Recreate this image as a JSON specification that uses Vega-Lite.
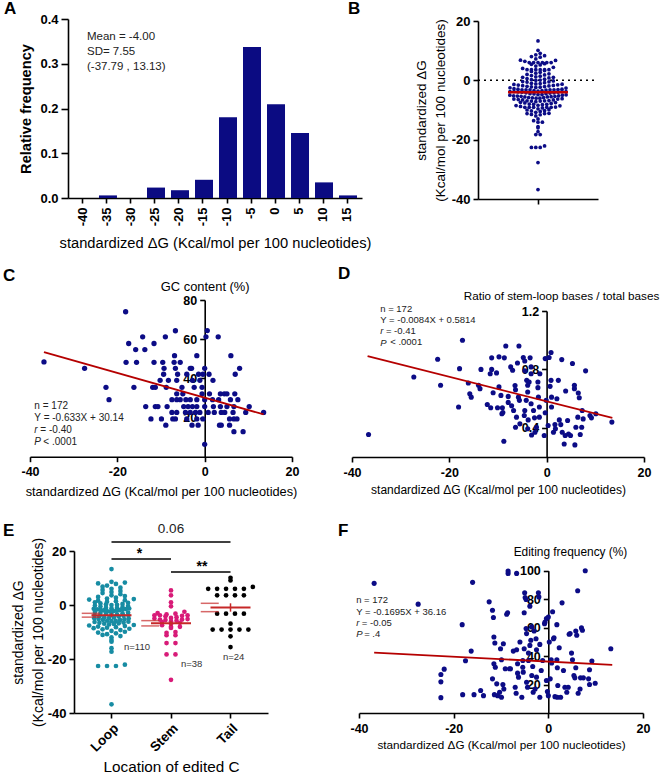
{
"$schema": "https://vega.github.io/schema/vega-lite/v6.json",
"padding": 0,
"background": "white",
"columns": 2,
"spacing": 0,
"bounds": "flush",
"config": {
  "font": "Liberation Sans",
  "view": {"stroke": null},
  "axis": {"grid": false, "domainColor": "#000", "domainWidth": 1.6, "tickColor": "#000", "tickWidth": 1.6, "tickSize": 5, "labelColor": "#000", "labelFontWeight": "bold", "labelFontSize": 12.5, "labelFont": "Liberation Sans", "labelPadding": 3, "titleColor": "#000", "titleFontWeight": "normal", "titleFont": "Liberation Sans", "labelFlush": false, "labelOverlap": false, "titleFontSize": 12},
  "title": {"fontSize": 17, "fontWeight": "bold", "anchor": "start", "color": "#000", "font": "Liberation Sans", "frame": "group"}
},
"datasets": {
  "hist": [{"bin":-40,"freq":0},{"bin":-35,"freq":0.0058},{"bin":-30,"freq":0},{"bin":-25,"freq":0.0233},{"bin":-20,"freq":0.0174},{"bin":-15,"freq":0.0407},{"bin":-10,"freq":0.1802},{"bin":-5,"freq":0.3372},{"bin":0,"freq":0.2093},{"bin":5,"freq":0.1453},{"bin":10,"freq":0.0349},{"bin":15,"freq":0.0058}],
  "dg": [
{"loc":"Loop","dg":13.3},{"loc":"Loop","dg":8.6},{"loc":"Loop","dg":8.3},{"loc":"Loop","dg":8.0},{"loc":"Loop","dg":7.8},{"loc":"Loop","dg":7.2},{"loc":"Loop","dg":6.8},{"loc":"Loop","dg":6.4},{"loc":"Loop","dg":6.0},{"loc":"Loop","dg":5.6},{"loc":"Loop","dg":5.2},{"loc":"Loop","dg":4.8},{"loc":"Loop","dg":4.4},{"loc":"Loop","dg":4.0},{"loc":"Loop","dg":3.6},{"loc":"Loop","dg":3.3},{"loc":"Loop","dg":3.0},{"loc":"Loop","dg":2.7},
{"loc":"Loop","dg":2.4},{"loc":"Loop","dg":2.2},{"loc":"Loop","dg":2.0},{"loc":"Loop","dg":1.8},{"loc":"Loop","dg":1.6},{"loc":"Loop","dg":1.4},{"loc":"Loop","dg":1.2},{"loc":"Loop","dg":1.0},{"loc":"Loop","dg":0.8},{"loc":"Loop","dg":0.6},{"loc":"Loop","dg":0.4},{"loc":"Loop","dg":0.2},{"loc":"Loop","dg":0.1},{"loc":"Loop","dg":0.0},{"loc":"Loop","dg":-0.2},{"loc":"Loop","dg":-0.4},{"loc":"Loop","dg":-0.6},{"loc":"Loop","dg":-0.8},{"loc":"Loop","dg":-1.0},{"loc":"Loop","dg":-1.1},{"loc":"Loop","dg":-1.2},{"loc":"Loop","dg":-1.3},{"loc":"Loop","dg":-1.4},{"loc":"Loop","dg":-1.5},{"loc":"Loop","dg":-1.6},{"loc":"Loop","dg":-1.7},{"loc":"Loop","dg":-1.8},{"loc":"Loop","dg":-1.9},{"loc":"Loop","dg":-2.0},{"loc":"Loop","dg":-2.1},{"loc":"Loop","dg":-2.2},{"loc":"Loop","dg":-2.3},{"loc":"Loop","dg":-2.4},
{"loc":"Loop","dg":-2.6},{"loc":"Loop","dg":-2.8},{"loc":"Loop","dg":-3.0},{"loc":"Loop","dg":-3.1},{"loc":"Loop","dg":-3.3},{"loc":"Loop","dg":-3.5},{"loc":"Loop","dg":-3.6},{"loc":"Loop","dg":-3.8},{"loc":"Loop","dg":-3.9},{"loc":"Loop","dg":-4.0},{"loc":"Loop","dg":-4.2},{"loc":"Loop","dg":-4.3},{"loc":"Loop","dg":-4.5},{"loc":"Loop","dg":-4.6},{"loc":"Loop","dg":-4.8},{"loc":"Loop","dg":-4.9},{"loc":"Loop","dg":-5.0},{"loc":"Loop","dg":-5.2},{"loc":"Loop","dg":-5.3},{"loc":"Loop","dg":-5.5},{"loc":"Loop","dg":-5.6},{"loc":"Loop","dg":-5.8},{"loc":"Loop","dg":-5.9},{"loc":"Loop","dg":-6.0},{"loc":"Loop","dg":-6.2},{"loc":"Loop","dg":-6.3},{"loc":"Loop","dg":-6.5},{"loc":"Loop","dg":-6.6},{"loc":"Loop","dg":-6.8},{"loc":"Loop","dg":-6.9},{"loc":"Loop","dg":-7.0},{"loc":"Loop","dg":-7.2},{"loc":"Loop","dg":-7.4},
{"loc":"Loop","dg":-7.6},{"loc":"Loop","dg":-7.8},{"loc":"Loop","dg":-8.0},{"loc":"Loop","dg":-8.2},{"loc":"Loop","dg":-8.4},{"loc":"Loop","dg":-8.6},{"loc":"Loop","dg":-8.8},{"loc":"Loop","dg":-9.0},{"loc":"Loop","dg":-9.3},{"loc":"Loop","dg":-9.6},{"loc":"Loop","dg":-9.9},{"loc":"Loop","dg":-10.2},{"loc":"Loop","dg":-10.5},{"loc":"Loop","dg":-10.8},{"loc":"Loop","dg":-11.1},{"loc":"Loop","dg":-11.5},{"loc":"Loop","dg":-12.0},
{"loc":"Loop","dg":-13.0},{"loc":"Loop","dg":-13.6},{"loc":"Loop","dg":-16.0},{"loc":"Loop","dg":-17.3},{"loc":"Loop","dg":-22.1},{"loc":"Loop","dg":-22.6},{"loc":"Loop","dg":-22.6},{"loc":"Loop","dg":-22.6},{"loc":"Loop","dg":-36.8},
{"loc":"Stem","dg":5.4},{"loc":"Stem","dg":3.6},{"loc":"Stem","dg":1.0},{"loc":"Stem","dg":-0.5},{"loc":"Stem","dg":-2.5},{"loc":"Stem","dg":-3.0},{"loc":"Stem","dg":-3.2},{"loc":"Stem","dg":-3.5},{"loc":"Stem","dg":-3.8},{"loc":"Stem","dg":-3.8},{"loc":"Stem","dg":-3.8},{"loc":"Stem","dg":-4.0},{"loc":"Stem","dg":-4.2},{"loc":"Stem","dg":-4.5},{"loc":"Stem","dg":-4.8},{"loc":"Stem","dg":-5.0},{"loc":"Stem","dg":-5.2},{"loc":"Stem","dg":-5.4},{"loc":"Stem","dg":-5.4},{"loc":"Stem","dg":-5.6},{"loc":"Stem","dg":-5.8},{"loc":"Stem","dg":-6.0},{"loc":"Stem","dg":-6.3},{"loc":"Stem","dg":-6.6},{"loc":"Stem","dg":-7.0},{"loc":"Stem","dg":-7.5},{"loc":"Stem","dg":-8.1},{"loc":"Stem","dg":-8.1},{"loc":"Stem","dg":-8.5},{"loc":"Stem","dg":-10.0},{"loc":"Stem","dg":-10.3},{"loc":"Stem","dg":-11.2},{"loc":"Stem","dg":-11.2},{"loc":"Stem","dg":-14.1},{"loc":"Stem","dg":-14.1},{"loc":"Stem","dg":-18.3},{"loc":"Stem","dg":-18.3},{"loc":"Stem","dg":-27.7},
{"loc":"Tail","dg":10.1},{"loc":"Tail","dg":9.1},{"loc":"Tail","dg":6.7},{"loc":"Tail","dg":6.0},{"loc":"Tail","dg":6.0},{"loc":"Tail","dg":6.0},{"loc":"Tail","dg":6.0},{"loc":"Tail","dg":6.0},{"loc":"Tail","dg":3.6},{"loc":"Tail","dg":3.6},{"loc":"Tail","dg":3.6},{"loc":"Tail","dg":3.6},{"loc":"Tail","dg":-3.2},{"loc":"Tail","dg":-3.2},{"loc":"Tail","dg":-3.2},{"loc":"Tail","dg":-3.2},{"loc":"Tail","dg":-6.9},{"loc":"Tail","dg":-9.1},{"loc":"Tail","dg":-9.1},{"loc":"Tail","dg":-9.1},{"loc":"Tail","dg":-9.1},{"loc":"Tail","dg":-9.1},{"loc":"Tail","dg":-11.6},{"loc":"Tail","dg":-15.6}
  ],
  "gc": [
{"dg":-36.8,"gc":48.4},{"dg":-27.5,"gc":45.1},{"dg":-22.6,"gc":35.4},{"dg":-21.9,"gc":29.1},{"dg":-18.1,"gc":74.0},{"dg":-17.4,"gc":57.8},{"dg":-15.8,"gc":54.7},{"dg":-14.2,"gc":61.2},{"dg":-13.7,"gc":54.7},{"dg":-11.6,"gc":57.8},{"dg":-9.0,"gc":61.2},{"dg":-6.7,"gc":64.3},{"dg":0.6,"gc":64.4},{"dg":0.3,"gc":61.2},{"dg":3.1,"gc":61.2},{"dg":-18.0,"gc":48.2},{"dg":-15.6,"gc":48.2},{"dg":-16.2,"gc":35.4},{"dg":-13.5,"gc":25.6},{"dg":-12.3,"gc":19.3},
{"dg":-11.6,"gc":48.2},{"dg":-9.6,"gc":48.2},{"dg":-7.0,"gc":48.2},{"dg":-5.6,"gc":48.2},
{"dg":-6.9,"gc":51.6},{"dg":-1.8,"gc":51.6},{"dg":6.0,"gc":51.6},
{"dg":-9.3,"gc":45.1},{"dg":-6.7,"gc":45.1},{"dg":-3.3,"gc":45.1},{"dg":-3.0,"gc":45.1},{"dg":0.0,"gc":45.1},{"dg":8.0,"gc":45.1},
{"dg":-9.4,"gc":42.1},{"dg":-6.2,"gc":42.1},{"dg":-4.1,"gc":42.1},{"dg":-1.4,"gc":42.1},{"dg":-0.4,"gc":42.1},{"dg":1.0,"gc":42.1},{"dg":7.0,"gc":42.1},
{"dg":-10.2,"gc":39.0},{"dg":-8.3,"gc":39.0},{"dg":-6.4,"gc":39.0},{"dg":-2.8,"gc":39.0},{"dg":-1.1,"gc":39.0},{"dg":1.9,"gc":39.0},
{"dg":-11.9,"gc":35.4},{"dg":-11.3,"gc":35.4},{"dg":-8.8,"gc":35.4},{"dg":-5.2,"gc":35.4},{"dg":-2.4,"gc":35.4},{"dg":-0.6,"gc":35.4},
{"dg":-6.4,"gc":32.1},{"dg":-5.0,"gc":32.1},{"dg":-0.6,"gc":32.1},{"dg":1.1,"gc":32.1},{"dg":3.6,"gc":32.1},{"dg":4.5,"gc":32.1},{"dg":5.1,"gc":32.1},{"dg":6.9,"gc":32.1},
{"dg":-7.5,"gc":29.1},{"dg":-6.4,"gc":29.1},{"dg":-5.6,"gc":29.1},{"dg":-4.3,"gc":29.1},{"dg":-3.3,"gc":29.1},{"dg":-1.8,"gc":29.1},{"dg":0.0,"gc":29.1},{"dg":1.8,"gc":29.1},{"dg":3.2,"gc":29.1},{"dg":5.9,"gc":29.1},{"dg":7.6,"gc":29.1},
{"dg":-11.3,"gc":25.6},{"dg":-10.7,"gc":25.6},{"dg":-8.6,"gc":25.6},{"dg":-4.8,"gc":25.6},{"dg":-3.8,"gc":25.6},{"dg":-2.8,"gc":25.6},{"dg":-1.8,"gc":25.6},{"dg":0.0,"gc":25.6},{"dg":2.0,"gc":25.6},{"dg":3.6,"gc":25.6},{"dg":5.1,"gc":25.6},{"dg":6.7,"gc":25.6},{"dg":10.2,"gc":25.6},
{"dg":-7.5,"gc":22.6},{"dg":-6.4,"gc":22.6},{"dg":-4.4,"gc":22.6},{"dg":-3.3,"gc":22.6},{"dg":-2.1,"gc":22.6},{"dg":-1.1,"gc":22.6},{"dg":0.8,"gc":22.6},{"dg":2.2,"gc":22.6},{"dg":3.8,"gc":22.6},{"dg":4.6,"gc":22.6},{"dg":6.5,"gc":22.6},{"dg":9.4,"gc":22.6},{"dg":13.5,"gc":22.6},
{"dg":-9.9,"gc":19.3},{"dg":-7.3,"gc":19.3},{"dg":-6.7,"gc":19.3},{"dg":-4.1,"gc":19.3},{"dg":-1.8,"gc":19.3},{"dg":-0.4,"gc":19.3},{"dg":5.7,"gc":19.3},{"dg":6.7,"gc":19.3},{"dg":7.4,"gc":19.3},
{"dg":-8.9,"gc":16.1},{"dg":-2.9,"gc":16.1},{"dg":-1.5,"gc":16.1},{"dg":3.4,"gc":16.1},{"dg":3.8,"gc":16.1},{"dg":5.7,"gc":16.1},
{"dg":6.7,"gc":12.8},{"dg":8.8,"gc":12.8},{"dg":0.0,"gc":6.3}
  ],
  "ratio": [
{"dg":-36.6,"r":0.354},{"dg":-27.3,"r":0.748},{"dg":-22.4,"r":0.870},{"dg":-21.8,"r":0.691},{"dg":-17.3,"r":1.0},{"dg":-17.9,"r":0.805},{"dg":-18.1,"r":0.542},{"dg":-16.1,"r":0.707},{"dg":-15.8,"r":0.633},{"dg":-15.5,"r":0.61},{"dg":-14.0,"r":0.691},{"dg":-13.7,"r":0.668},{"dg":-13.5,"r":0.80},{"dg":-12.2,"r":0.56},{"dg":-11.5,"r":0.537},{"dg":-11.3,"r":0.879},{"dg":-11.3,"r":0.80},{"dg":-11.6,"r":0.77},{"dg":-10.3,"r":0.776},{"dg":-11.0,"r":0.64},{"dg":-10.1,"r":0.537},{"dg":-9.8,"r":0.886},{"dg":-9.8,"r":0.68},{"dg":-9.4,"r":0.622},{"dg":-9.2,"r":0.496},{"dg":-8.8,"r":0.308},{"dg":-8.7,"r":0.879},{"dg":-9.1,"r":0.537},{"dg":-8.4,"r":0.96},{"dg":-7.9,"r":0.615},{"dg":-7.4,"r":0.817},{"dg":-7.0,"r":0.794},{"dg":-7.2,"r":0.551},{"dg":-6.8,"r":0.519},{"dg":-6.5,"r":0.69},{"dg":-6.4,"r":0.661},{"dg":-6.4,"r":0.404},{"dg":-5.7,"r":0.96},{"dg":-6.0,"r":0.844},{"dg":-5.8,"r":0.61},{"dg":-5.6,"r":0.588},{"dg":-6.2,"r":0.473},{"dg":-5.5,"r":0.427},{"dg":-4.8,"r":0.881},{"dg":-4.5,"r":0.858},{"dg":-4.5,"r":0.79},{"dg":-4.1,"r":0.725},{"dg":-3.9,"r":0.691},{"dg":-3.9,"r":0.645},{"dg":-4.2,"r":0.588},{"dg":-4.5,"r":0.519},{"dg":-4.6,"r":0.484},{"dg":-3.8,"r":0.454},{"dg":-3.9,"r":0.393},{"dg":-3.4,"r":0.879},{"dg":-3.2,"r":0.817},{"dg":-3.2,"r":0.77},{"dg":-3.6,"r":0.714},{"dg":-3.2,"r":0.565},{"dg":-2.7,"r":0.519},{"dg":-2.5,"r":0.468},{"dg":-3.1,"r":0.351},{"dg":-2.4,"r":0.37},{"dg":-1.8,"r":0.714},{"dg":-1.8,"r":0.675},{"dg":-1.7,"r":0.61},{"dg":-1.5,"r":0.542},{"dg":-1.5,"r":0.473},{"dg":-1.4,"r":0.77},{"dg":-2.1,"r":0.404},{"dg":-0.5,"r":0.347},{"dg":-0.3,"r":0.874},{"dg":0.5,"r":0.881},{"dg":0.9,"r":0.916},{"dg":-0.3,"r":0.503},{"dg":-0.1,"r":0.588},{"dg":0.9,"r":0.725},{"dg":0.7,"r":0.684},{"dg":1.0,"r":0.61},{"dg":1.0,"r":0.542},{"dg":0.3,"r":0.416},{"dg":1.4,"r":0.37},{"dg":1.7,"r":0.422},{"dg":1.8,"r":0.393},{"dg":2.1,"r":0.599},{"dg":2.4,"r":0.725},{"dg":2.6,"r":0.454},{"dg":2.9,"r":0.422},{"dg":3.1,"r":0.867},{"dg":3.2,"r":0.37},{"dg":3.6,"r":0.289},{"dg":3.8,"r":0.347},{"dg":3.9,"r":0.652},{"dg":4.3,"r":0.45},{"dg":4.5,"r":0.358},{"dg":4.9,"r":0.347},{"dg":5.3,"r":0.84},{"dg":5.7,"r":0.691},{"dg":5.7,"r":0.668},{"dg":5.8,"r":0.283},{"dg":6.0,"r":0.404},{"dg":6.4,"r":0.473},{"dg":6.5,"r":0.638},{"dg":6.7,"r":0.606},{"dg":6.9,"r":0.354},{"dg":7.2,"r":0.404},{"dg":7.3,"r":0.519},{"dg":7.5,"r":0.461},{"dg":8.0,"r":0.79},{"dg":8.9,"r":0.484},{"dg":9.2,"r":0.468},{"dg":10.1,"r":0.496},{"dg":13.4,"r":0.439},{"dg":-9.0,"r":0.505},{"dg":-7.9,"r":0.574}
  ],
  "freq": [
{"dg":-36.8,"f":91.1},{"dg":-27.5,"f":76.5},{"dg":-22.7,"f":27.1},{"dg":-22.0,"f":30.8},{"dg":-22.7,"f":21.9},{"dg":-22.7,"f":10.8},{"dg":-18.2,"f":62.1},{"dg":-18.1,"f":12.9},{"dg":-17.5,"f":36.7},{"dg":-16.3,"f":43.5},{"dg":-16.0,"f":91.8},{"dg":-15.7,"f":12.9},{"dg":-14.3,"f":15.8},{"dg":-13.7,"f":12.2},{"dg":-12.5,"f":78.1},{"dg":-11.8,"f":72.2},{"dg":-11.6,"f":67.1},{"dg":-11.5,"f":53.4},{"dg":-11.3,"f":49.2},{"dg":-11.5,"f":34.6},{"dg":-11.2,"f":32.2},{"dg":-11.8,"f":24.0},{"dg":-10.9,"f":20.5},{"dg":-11.4,"f":12.9},{"dg":-10.7,"f":12.2},{"dg":-10.3,"f":14.6},{"dg":-10.1,"f":45.2},{"dg":-9.9,"f":37.4},{"dg":-9.5,"f":48.7},{"dg":-9.6,"f":20.0},{"dg":-9.4,"f":16.9},{"dg":-9.9,"f":11.1},{"dg":-9.1,"f":31.1},{"dg":-8.8,"f":69.4},{"dg":-8.6,"f":70.4},{"dg":-8.5,"f":99.8},{"dg":-8.5,"f":98.1},{"dg":-8.2,"f":31.1},{"dg":-8.0,"f":31.1},{"dg":-7.4,"f":43.5},{"dg":-7.0,"f":18.1},{"dg":-6.8,"f":13.9},{"dg":-6.7,"f":98.1},{"dg":-6.7,"f":44.5},{"dg":-6.5,"f":34.6},{"dg":-6.5,"f":28.0},{"dg":-6.3,"f":25.2},{"dg":-6.0,"f":49.9},{"dg":-5.6,"f":11.1},{"dg":-5.4,"f":36.9},{"dg":-5.3,"f":28.7},{"dg":-5.1,"f":45.2},{"dg":-5.1,"f":70.4},{"dg":-5.0,"f":84.5},{"dg":-4.9,"f":81.2},{"dg":-4.7,"f":79.8},{"dg":-4.7,"f":59.3},{"dg":-4.6,"f":55.8},{"dg":-4.6,"f":21.6},{"dg":-4.4,"f":18.1},{"dg":-4.2,"f":36.9},{"dg":-4.2,"f":42.1},{"dg":-3.9,"f":75.1},{"dg":-3.9,"f":47.5},{"dg":-3.7,"f":51.1},{"dg":-3.5,"f":60.5},{"dg":-3.5,"f":26.4},{"dg":-3.3,"f":32.7},{"dg":-3.2,"f":14.6},{"dg":-3.0,"f":57.6},{"dg":-2.8,"f":16.9},{"dg":-2.6,"f":52.2},{"dg":-2.5,"f":44.5},{"dg":-2.5,"f":25.2},{"dg":-2.1,"f":84.5},{"dg":-2.0,"f":81.6},{"dg":-1.8,"f":48.2},{"dg":-1.8,"f":11.1},{"dg":-1.5,"f":29.9},{"dg":-1.2,"f":36.9},{"dg":-0.8,"f":62.8},{"dg":-0.7,"f":64.0},{"dg":-0.4,"f":66.4},{"dg":-0.4,"f":22.8},{"dg":-0.2,"f":15.1},{"dg":0.0,"f":12.2},{"dg":0.0,"f":67.5},{"dg":0.2,"f":49.9},{"dg":0.4,"f":24.0},{"dg":0.6,"f":37.4},{"dg":0.7,"f":35.1},{"dg":0.9,"f":71.1},{"dg":1.1,"f":52.2},{"dg":1.2,"f":52.9},{"dg":1.4,"f":11.5},{"dg":1.8,"f":37.4},{"dg":1.9,"f":11.1},{"dg":2.0,"f":19.3},{"dg":1.8,"f":62.1},{"dg":1.9,"f":31.8},{"dg":2.3,"f":45.9},{"dg":2.6,"f":11.1},{"dg":2.9,"f":77.4},{"dg":3.2,"f":29.9},{"dg":3.5,"f":18.1},{"dg":3.9,"f":14.6},{"dg":4.2,"f":18.1},{"dg":4.4,"f":55.3},{"dg":4.6,"f":55.8},{"dg":4.9,"f":42.1},{"dg":5.1,"f":37.4},{"dg":5.4,"f":26.4},{"dg":5.6,"f":24.7},{"dg":5.8,"f":31.8},{"dg":5.8,"f":57.6},{"dg":6.0,"f":54.6},{"dg":6.2,"f":85.9},{"dg":6.3,"f":13.9},{"dg":6.7,"f":16.9},{"dg":6.8,"f":24.7},{"dg":7.0,"f":59.8},{"dg":7.2,"f":58.1},{"dg":7.4,"f":24.7},{"dg":7.8,"f":100},{"dg":8.5,"f":24.0},{"dg":8.7,"f":20.0},{"dg":8.7,"f":30.4},{"dg":9.2,"f":36.5},{"dg":9.9,"f":20.9},{"dg":13.2,"f":45.2},{"dg":-5.4,"f":32.2}
  ]
},
"concat": [
{
  "width": 332, "height": 259,
  "title": {"text": "A", "dx": 4, "offset": -18},
  "layer": [
    {"data": {"name": "hist"},
     "mark": {"type": "bar", "color": "#0b0b82"},
     "encoding": {
       "x": {"field": "bin", "type": "ordinal",
         "scale": {"type": "band", "range": [68, 362], "paddingInner": 0.333, "paddingOuter": 0.29},
         "axis": {"labelAngle": -90, "labelOverlap": false, "labelFontSize": 13, "labelPadding": 4, "offset": -61, "title": "standardized ΔG (Kcal/mol per 100 nucleotides)", "titleFontSize": 14.7, "titleY": 49, "titleBaseline": "alphabetic"}},
       "y": {"field": "freq", "type": "quantitative",
         "scale": {"domain": [0, 0.4], "range": [198, 19], "nice": false, "zero": false},
         "axis": {"values": [0,0.1,0.2,0.3,0.4], "format": ".1f", "labelFontSize": 13, "tickSize": 7, "offset": -68, "title": "Relative frequency", "titleFontWeight": "bold", "titleFontSize": 14.6, "titleX": -37.5, "titleBaseline": "alphabetic"}}
     }},
    {"data": {"values": [{}]},
     "mark": {"type": "text", "align": "left", "baseline": "alphabetic", "fontSize": 11.5, "lineHeight": 15, "color": "#222", "dx": 4},
     "encoding": {"x": {"datum": -40, "type": "ordinal"}, "y": {"datum": 0.353}, "text": {"value": ["Mean = -4.00", "SD= 7.55", "(-37.79 , 13.13)"]}}}
  ]
},
{
  "width": 332, "height": 259,
  "title": {"text": "B", "dx": 16, "offset": -18},
  "data": {"name": "dg"},
  "layer": [
    {"data": {"values": [{}]},
     "mark": {"type": "rule", "strokeDash": [2, 4], "color": "#000", "strokeWidth": 1.5},
     "encoding": {"x": {"datum": -13}, "x2": {"datum": 13}, "y": {"datum": 0}}},
    {"transform": [
       {"bin": {"step": 1.2}, "field": "dg", "as": "row"},
       {"window": [{"op": "row_number", "as": "k"}], "groupby": ["row"], "sort": [{"field": "dg", "order": "ascending"}]},
       {"joinaggregate": [{"op": "count", "as": "n"}], "groupby": ["row"]},
       {"calculate": "((datum.k % 2 == 0) ? datum.k / 2 : -(datum.k - 1) / 2) - ((datum.n % 2 == 0) ? 0.5 : 0)", "as": "p"},
       {"calculate": "datum.p * min(0.95, 13 / datum.n)", "as": "off"}
     ],
     "mark": {"type": "circle", "size": 14, "color": "#0c0c86", "opacity": 1},
     "encoding": {
       "x": {"field": "off", "type": "quantitative", "scale": {"domain": [-13, 13], "range": [146, 266], "nice": false, "zero": false}, "axis": {"values": [0], "labels": false, "offset": -60, "title": null}},
       "y": {"field": "dg", "type": "quantitative", "scale": {"domain": [-40, 20], "range": [199, 21], "nice": false, "zero": false},
         "axis": {"values": [-40,-20,0,20], "labelExpr": "datum.value + ''", "labelFontSize": 13, "offset": -146, "title": ["standardized ΔG", "(Kcal/mol per 100 nucleotides)"], "titleFontSize": 13.5, "titleLineHeight": 19, "titleX": -53, "titleBaseline": "alphabetic"}}
     }},
    {"mark": {"type": "rule", "color": "#c00000", "strokeWidth": 2.5},
     "encoding": {"x": {"datum": -6.5}, "x2": {"datum": 6.5}, "y": {"aggregate": "mean", "field": "dg", "type": "quantitative", "title": ["standardized ΔG", "(Kcal/mol per 100 nucleotides)"]}}}
  ]
},
{
  "width": 332, "height": 259,
  "title": {"text": "C", "dx": 3, "offset": -26},
  "layer": [
    {"data": {"name": "gc"},
     "mark": {"type": "circle", "size": 28, "color": "#0c0c86", "opacity": 1},
     "encoding": {
       "x": {"field": "dg", "type": "quantitative", "scale": {"domain": [-40, 20], "range": [30, 292], "nice": false, "zero": false},
         "axis": {"values": [-40,-20,0,20], "labelExpr": "datum.value + ''", "offset": -61.3, "labelPadding": 4, "title": "standardized ΔG (Kcal/mol per 100 nucleotides)", "titleFontSize": 12.8, "titleY": 38.3, "titleBaseline": "alphabetic"}},
       "y": {"field": "gc", "type": "quantitative", "scale": {"domain": [0, 80], "range": [197.7, 41], "nice": false, "zero": false},
         "axis": {"values": [20,40,60,80], "offset": -204.7, "title": "GC content (%)", "titleAngle": 0, "titleX": 0, "titleY": 31, "titleAlign": "center", "titleBaseline": "alphabetic", "titleFontSize": 12.9}}
     }},
    {"data": {"values": [{}]}, "mark": {"type": "rule", "color": "#b50000", "strokeWidth": 1.8},
     "encoding": {"x": {"datum": -36.8}, "y": {"datum": 53.4}, "x2": {"datum": 13.5}, "y2": {"datum": 21.6}}},
    {"data": {"values": [{}]}, "mark": {"type": "text", "align": "left", "baseline": "alphabetic", "fontSize": 10, "lineHeight": 12, "color": "#222"},
     "encoding": {"x": {"datum": -39}, "y": {"datum": 24.6}, "text": {"value": ["n = 172", "Y = -0.633X + 30.14"]}}},
    {"data": {"values": [{}]}, "mark": {"type": "text", "align": "left", "baseline": "alphabetic", "fontSize": 10, "fontStyle": "italic", "lineHeight": 12, "color": "#222"},
     "encoding": {"x": {"datum": -39}, "y": {"datum": 12.35}, "text": {"value": ["r", "P"]}}},
    {"data": {"values": [{}]}, "mark": {"type": "text", "align": "left", "baseline": "alphabetic", "fontSize": 10, "color": "#222", "dx": 6},
     "encoding": {"x": {"datum": -39}, "y": {"datum": 12.35}, "text": {"value": "= -0.40"}}},
    {"data": {"values": [{}]}, "mark": {"type": "text", "align": "left", "baseline": "alphabetic", "fontSize": 10, "color": "#222", "dx": 9},
     "encoding": {"x": {"datum": -39}, "y": {"datum": 6.2}, "text": {"value": "< .0001"}}}
  ]
},
{
  "width": 332, "height": 259,
  "title": {"text": "D", "dx": 6, "offset": -24},
  "layer": [
    {"data": {"name": "ratio"},
     "mark": {"type": "circle", "size": 26, "color": "#0c0c86", "opacity": 1},
     "encoding": {
       "x": {"field": "dg", "type": "quantitative", "scale": {"domain": [-40, 20], "range": [20, 312], "nice": false, "zero": false},
         "axis": {"values": [-40,-20,0,20], "labelExpr": "datum.value + ''", "offset": -61, "labelPadding": 4, "title": "standardized ΔG (Kcal/mol per 100 nucleotides)", "titleFontSize": 12, "titleY": 36, "titleBaseline": "alphabetic"}},
       "y": {"field": "r", "type": "quantitative", "scale": {"domain": [0.2, 1.2], "range": [198, 52], "nice": false, "zero": false},
         "axis": {"values": [0.4,0.8,1.2], "format": ".1f", "offset": -214.6, "title": "Ratio of stem-loop bases / total bases", "titleAngle": 0, "titleX": 14.4, "titleY": 40, "titleAlign": "center", "titleBaseline": "alphabetic", "titleFontSize": 11.7}}
     }},
    {"data": {"values": [{}]}, "mark": {"type": "rule", "color": "#b50000", "strokeWidth": 1.8},
     "encoding": {"x": {"datum": -36.8}, "y": {"datum": 0.8905}, "x2": {"datum": 13.5}, "y2": {"datum": 0.468}}},
    {"data": {"values": [{}]}, "mark": {"type": "text", "align": "left", "baseline": "alphabetic", "fontSize": 9.5, "lineHeight": 11.3, "color": "#222"},
     "encoding": {"x": {"datum": -34.2}, "y": {"datum": 1.196}, "text": {"value": ["n = 172", "Y = -0.0084X + 0.5814"]}}},
    {"data": {"values": [{}]}, "mark": {"type": "text", "align": "left", "baseline": "alphabetic", "fontSize": 9.5, "fontStyle": "italic", "lineHeight": 11.3, "color": "#222"},
     "encoding": {"x": {"datum": -34.2}, "y": {"datum": 1.041}, "text": {"value": ["r", "P"]}}},
    {"data": {"values": [{}]}, "mark": {"type": "text", "align": "left", "baseline": "alphabetic", "fontSize": 9.5, "color": "#222", "dx": 5.7},
     "encoding": {"x": {"datum": -34.2}, "y": {"datum": 1.041}, "text": {"value": "= -0.41"}}},
    {"data": {"values": [{}]}, "mark": {"type": "text", "align": "left", "baseline": "alphabetic", "fontSize": 9.5, "color": "#222", "dx": 10},
     "encoding": {"x": {"datum": -34.2}, "y": {"datum": 0.964}, "text": {"value": "< .0001"}}}
  ]
},
{
  "width": 332, "height": 259,
  "title": {"text": "E", "dx": 3, "offset": -22},
  "data": {"name": "dg"},
  "layer": [
    {"transform": [
       {"bin": {"step": 2}, "field": "dg", "as": "row"},
       {"window": [{"op": "row_number", "as": "k"}], "groupby": ["loc", "row"], "sort": [{"field": "dg", "order": "ascending"}]},
       {"joinaggregate": [{"op": "count", "as": "n"}], "groupby": ["loc", "row"]},
       {"calculate": "((datum.k % 2 == 0) ? datum.k / 2 : -(datum.k - 1) / 2) - ((datum.n % 2 == 0) ? 0.5 : 0)", "as": "p"},
       {"calculate": "datum.p * (datum.n <= 6 ? 3 : 13 / datum.n)", "as": "off"}
     ],
     "mark": {"type": "circle", "size": 22, "opacity": 1},
     "encoding": {
       "x": {"field": "loc", "type": "nominal", "scale": {"type": "band", "range": [74, 268], "paddingInner": 0, "paddingOuter": 0.13},
         "axis": {"labelAngle": -45, "labelFontSize": 13.5, "offset": -64, "title": "Location of edited C", "titleFontSize": 15.3, "titleY": 58, "titleBaseline": "alphabetic"}},
       "xOffset": {"field": "off", "type": "quantitative", "scale": {"domain": [-10, 10]}},
       "y": {"field": "dg", "type": "quantitative", "scale": {"domain": [-40, 20], "range": [195, 33], "nice": false, "zero": false},
         "axis": {"values": [-40,-20,0,20], "labelExpr": "datum.value + ''", "labelFontSize": 13, "offset": -74, "title": ["standardized ΔG", "(Kcal/mol per 100 nucleotides)"], "titleFontSize": 14, "titleLineHeight": 20, "titleX": -51.5, "titleBaseline": "alphabetic"}},
       "color": {"field": "loc", "type": "nominal", "scale": {"domain": ["Loop", "Stem", "Tail"], "range": ["#178ca3", "#d81b78", "#000000"]}, "legend": null}
     }},
    {"mark": {"type": "tick", "color": "#c62828", "thickness": 2, "size": 40},
     "encoding": {"x": {"field": "loc", "type": "nominal", "title": "Location of edited C"}, "y": {"aggregate": "mean", "field": "dg", "type": "quantitative", "title": ["standardized ΔG", "(Kcal/mol per 100 nucleotides)"]}}},
    {"mark": {"type": "errorbar", "extent": "stderr", "color": "#c62828", "thickness": 1.5, "ticks": true},
     "encoding": {"x": {"field": "loc", "type": "nominal", "title": "Location of edited C"}, "y": {"field": "dg", "type": "quantitative", "title": ["standardized ΔG", "(Kcal/mol per 100 nucleotides)"]}}},
    {"data": {"values": [{}]}, "mark": {"type": "rule", "color": "#000", "strokeWidth": 1.5},
     "encoding": {"x": {"datum": "Loop"}, "x2": {"datum": "Tail"}, "y": {"datum": 23.3}}},
    {"data": {"values": [{}]}, "mark": {"type": "rule", "color": "#000", "strokeWidth": 1.5},
     "encoding": {"x": {"datum": "Loop"}, "x2": {"datum": "Stem"}, "y": {"datum": 17.0}}},
    {"data": {"values": [{}]}, "mark": {"type": "rule", "color": "#000", "strokeWidth": 1.5},
     "encoding": {"x": {"datum": "Stem"}, "x2": {"datum": "Tail"}, "y": {"datum": 12.2}}},
    {"data": {"values": [{}]}, "mark": {"type": "text", "fontSize": 13.5, "baseline": "middle", "color": "#222"},
     "encoding": {"x": {"datum": "Stem"}, "y": {"datum": 28.0}, "text": {"value": "0.06"}}},
    {"data": {"values": [{}]}, "mark": {"type": "text", "fontSize": 14, "fontWeight": "bold", "baseline": "alphabetic", "color": "#000", "dx": 28},
     "encoding": {"x": {"datum": "Loop"}, "y": {"datum": 17.4}, "text": {"value": "*"}}},
    {"data": {"values": [{}]}, "mark": {"type": "text", "fontSize": 14, "fontWeight": "bold", "baseline": "alphabetic", "color": "#000", "dx": 31},
     "encoding": {"x": {"datum": "Stem"}, "y": {"datum": 12.6}, "text": {"value": "**"}}},
    {"data": {"values": [{}]}, "mark": {"type": "text", "fontSize": 9.5, "align": "left", "baseline": "middle", "color": "#333", "dx": 12.5},
     "encoding": {"x": {"datum": "Loop"}, "y": {"datum": -15.6}, "text": {"value": "n=110"}}},
    {"data": {"values": [{}]}, "mark": {"type": "text", "fontSize": 9.5, "align": "left", "baseline": "middle", "color": "#333", "dx": 10},
     "encoding": {"x": {"datum": "Stem"}, "y": {"datum": -21.9}, "text": {"value": "n=38"}}},
    {"data": {"values": [{}]}, "mark": {"type": "text", "fontSize": 9.5, "align": "left", "baseline": "middle", "color": "#333", "dx": -7.5},
     "encoding": {"x": {"datum": "Tail"}, "y": {"datum": -19.3}, "text": {"value": "n=24"}}}
  ]
},
{
  "width": 332, "height": 259,
  "title": {"text": "F", "dx": 6, "offset": -22},
  "layer": [
    {"data": {"name": "freq"},
     "mark": {"type": "circle", "size": 26, "color": "#0c0c86", "opacity": 1},
     "encoding": {
       "x": {"field": "dg", "type": "quantitative", "scale": {"domain": [-40, 20], "range": [27, 311], "nice": false, "zero": false},
         "axis": {"values": [-40,-20,0,20], "labelExpr": "datum.value + ''", "offset": -64, "labelPadding": 4, "title": "standardized ΔG (Kcal/mol per 100 nucleotides)", "titleFontSize": 11.7, "titleY": 35, "titleBaseline": "alphabetic"}},
       "y": {"field": "f", "type": "quantitative", "scale": {"domain": [0, 100], "range": [195, 52.7], "nice": false, "zero": false},
         "axis": {"values": [20,40,60,80,100], "offset": -216.3, "title": "Editing frequency (%)", "titleAngle": 0, "titleX": 21.7, "titleY": 37, "titleAlign": "center", "titleBaseline": "alphabetic", "titleFontSize": 11.9}}
     }},
    {"data": {"values": [{}]}, "mark": {"type": "rule", "color": "#b50000", "strokeWidth": 1.8},
     "encoding": {"x": {"datum": -36.8}, "y": {"datum": 42.4}, "x2": {"datum": 13.5}, "y2": {"datum": 33.87}}},
    {"data": {"values": [{}]}, "mark": {"type": "text", "align": "left", "baseline": "alphabetic", "fontSize": 9.5, "lineHeight": 11.3, "color": "#222"},
     "encoding": {"x": {"datum": -40.6}, "y": {"datum": 77.1}, "text": {"value": ["n = 172", "Y = -0.1695X + 36.16"]}}},
    {"data": {"values": [{}]}, "mark": {"type": "text", "align": "left", "baseline": "alphabetic", "fontSize": 9.5, "fontStyle": "italic", "lineHeight": 11.3, "color": "#222"},
     "encoding": {"x": {"datum": -40.6}, "y": {"datum": 61.2}, "text": {"value": ["r", "P"]}}},
    {"data": {"values": [{}]}, "mark": {"type": "text", "align": "left", "baseline": "alphabetic", "fontSize": 9.5, "color": "#222", "dx": 5.7},
     "encoding": {"x": {"datum": -40.6}, "y": {"datum": 61.2}, "text": {"value": "= -0.05"}}},
    {"data": {"values": [{}]}, "mark": {"type": "text", "align": "left", "baseline": "alphabetic", "fontSize": 9.5, "color": "#222", "dx": 8},
     "encoding": {"x": {"datum": -40.6}, "y": {"datum": 53.3}, "text": {"value": "= .4"}}}
  ]
}
]
}
